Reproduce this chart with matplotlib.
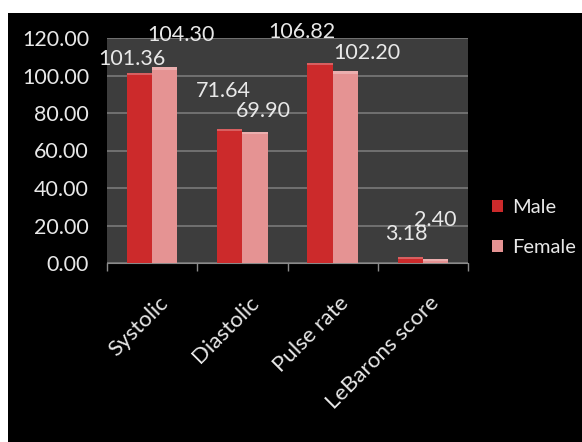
import numpy as np
import matplotlib.pyplot as plt
from matplotlib.patches import Rectangle

categories = ["Systolic", "Diastolic", "Pulse rate", "LeBarons score"]
male = [101.36, 71.64, 106.82, 3.18]
female = [104.30, 69.90, 102.20, 2.40]
yticks = [0, 20, 40, 60, 80, 100, 120]

# hand placed label offsets in pixels (dx, dy), like the original
male_off = [(-8, 8), (-6, 32), (-18, 25), (-4, 17)]
female_off = [(16, 26), (8, 15), (22, 12), (0, 33)]

plt.rcParams['font.family'] = ['Lato', 'DejaVu Sans']
txt = "#e8e8e8"

fig = plt.figure(figsize=(5.82, 4.42), dpi=100, facecolor="white")
# black backdrop with thin white border top/left
fig.patches.append(Rectangle((8 / 582, 0), 1, 1 - 13 / 442, transform=fig.transFigure,
                             facecolor="black", edgecolor="none", zorder=-5))

ax = fig.add_axes([107 / 582, 1 - 263 / 442, (468 - 107) / 582, (263 - 38) / 442])
ax.set_zorder(2)
ax.set_facecolor("#3d3d3d")

x = np.arange(len(categories))
w = 0.28
bm = ax.bar(x - w / 2, male, w, color="#cc2a2b", zorder=3)
bf = ax.bar(x + w / 2, female, w, color="#e59393", zorder=3)

# light highlight on bar tops
for b in list(bm) + list(bf):
    ax.add_patch(Rectangle((b.get_x(), b.get_height() - 1.2), b.get_width(), 1.2,
                           facecolor="white", alpha=0.25, edgecolor="none", zorder=4))

for bars, vals, offs in ((bm, male, male_off), (bf, female, female_off)):
    for b, v, (dx, dy) in zip(bars, vals, offs):
        ax.annotate("%.2f" % v, (b.get_x() + b.get_width() / 2, v), xytext=(dx, dy),
                    textcoords="offset pixels", ha="center", va="baseline",
                    color=txt, fontsize=15.5, annotation_clip=False)

ax.set_xlim(-0.5, len(categories) - 0.5)
ax.set_ylim(0, 120)
ax.set_yticks(yticks)
ax.set_yticklabels(["%.2f" % t for t in yticks], color=txt, fontsize=15.5)
ax.yaxis.grid(True, color="#7a7a7a", linewidth=1.2, zorder=1)
ax.set_axisbelow(True)

# boundary ticks between categories
ax.set_xticks(np.arange(len(categories) + 1) - 0.5)
ax.set_xticklabels([])
ax.tick_params(axis="x", direction="out", length=6, color="#8a8a8a", width=1)
ax.tick_params(axis="y", length=0, pad=13)
for c, name in zip(x, categories):
    ax.annotate(name, (c, 0), xytext=(6, -30), textcoords="offset pixels",
                ha="right", va="top", rotation=45, rotation_mode="anchor",
                color=txt, fontsize=16, annotation_clip=False)

for s in ("top", "right", "left"):
    ax.spines[s].set_visible(False)
ax.spines["bottom"].set_color("#8a8a8a")

leg = fig.legend([bm, bf], ["Male", "Female"], loc="upper left",
                 bbox_to_anchor=(474 / 582, 1 - 181 / 442), frameon=False,
                 fontsize=14.5, labelcolor=txt, handlelength=0.55, handleheight=0.55,
                 handletextpad=0.45, labelspacing=1.15)
leg.set_zorder(3)

fig.savefig("out.png", dpi=100, facecolor=fig.get_facecolor())
